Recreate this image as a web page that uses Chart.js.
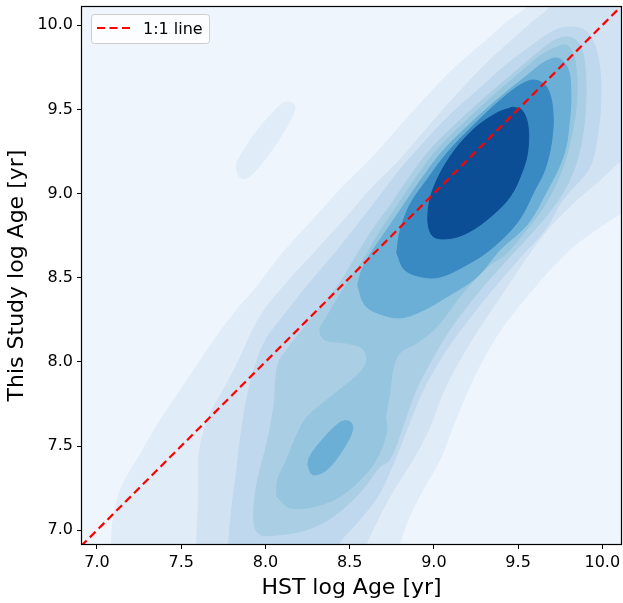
<!DOCTYPE html>
<html><head><meta charset="utf-8">
<script src="https://cdn.jsdelivr.net/npm/chart.js@4.4.1/dist/chart.umd.min.js"></script>
<style>html,body{margin:0;padding:0;background:#fff}canvas{display:block}</style>
</head><body>
<canvas id="c" width="623" height="603"></canvas>
<script>
// ---- axes ----
const xTicks = [7.0, 7.5, 8.0, 8.5, 9.0, 9.5, 10.0];
const yTicks = [7.0, 7.5, 8.0, 8.5, 9.0, 9.5, 10.0];
const xRange = [6.911, 10.111];
const yRange = [6.918, 10.108];
const xLabel = 'HST log Age [yr]';
const yLabel = 'This Study log Age [yr]';
const refLabel = '1:1 line';
const refLine = [[6.8, 6.8], [10.3, 10.3]];

// ---- KDE contour regions (x = HST log age, y = this study log age), lowest to highest density ----
const level1 = [[7.087,6.825],[7.087,6.944],[7.099,7.080],[7.147,7.258],[7.248,7.436],[7.366,7.638],[7.485,7.816],[7.604,7.994],[7.717,8.160],[7.830,8.309],[7.948,8.445],[8.103,8.647],[8.281,8.843],[8.459,9.039],[8.637,9.217],[8.815,9.418],[8.993,9.614],[9.154,9.775],[9.314,9.911],[9.433,10.018],[9.552,10.107],[9.629,10.208],[10.223,10.208],[10.223,8.932],[10.116,8.884],[9.986,8.801],[9.825,8.683],[9.688,8.546],[9.570,8.410],[9.409,8.208],[9.290,8.012],[9.195,7.816],[9.112,7.614],[9.035,7.418],[8.934,7.240],[8.839,7.045],[8.798,6.920],[8.780,6.825]];
const level1Island = [[7.830,9.140],[7.847,9.098],[7.889,9.092],[7.954,9.151],[8.037,9.258],[8.115,9.377],[8.162,9.466],[8.174,9.519],[8.144,9.543],[8.097,9.531],[8.014,9.448],[7.931,9.347],[7.865,9.246],[7.830,9.181]];
const level2 = [[7.592,6.825],[7.592,6.926],[7.604,7.223],[7.604,7.418],[7.622,7.537],[7.663,7.674],[7.741,7.816],[7.830,7.982],[7.966,8.267],[8.126,8.469],[8.305,8.665],[8.483,8.861],[8.637,9.039],[8.780,9.181],[8.976,9.407],[9.160,9.614],[9.332,9.792],[9.463,9.911],[9.599,10.030],[9.688,10.107],[9.736,10.208],[10.223,10.208],[10.223,9.258],[10.116,9.199],[9.986,9.080],[9.848,8.962],[9.688,8.801],[9.552,8.623],[9.409,8.410],[9.273,8.208],[9.154,8.012],[9.053,7.816],[8.976,7.614],[8.881,7.430],[8.738,7.199],[8.602,6.926],[8.572,6.825]];
const level3 = [[7.782,6.825],[7.782,6.926],[7.800,7.122],[7.830,7.359],[7.859,7.597],[7.895,7.804],[7.942,7.982],[8.002,8.131],[8.103,8.267],[8.263,8.469],[8.429,8.665],[8.560,8.831],[8.679,8.985],[8.798,9.140],[8.928,9.288],[9.095,9.466],[9.261,9.614],[9.421,9.757],[9.570,9.870],[9.718,9.970],[9.807,9.988],[9.896,9.970],[9.955,9.881],[9.986,9.733],[9.991,9.555],[9.973,9.359],[9.925,9.157],[9.765,8.962],[9.658,8.783],[9.498,8.605],[9.332,8.410],[9.172,8.208],[9.035,8.012],[8.928,7.816],[8.845,7.614],[8.768,7.418],[8.679,7.223],[8.560,7.062],[8.441,6.926],[8.411,6.825]];
const level4 = [[7.978,6.967],[7.942,7.003],[7.930,7.092],[7.936,7.181],[7.954,7.300],[7.984,7.418],[8.014,7.537],[8.037,7.656],[8.055,7.775],[8.061,7.893],[8.079,8.000],[8.126,8.071],[8.204,8.172],[8.281,8.267],[8.441,8.469],[8.542,8.635],[8.643,8.795],[8.756,8.950],[8.863,9.110],[8.987,9.270],[9.142,9.424],[9.320,9.585],[9.480,9.721],[9.599,9.822],[9.718,9.911],[9.807,9.929],[9.867,9.881],[9.896,9.763],[9.902,9.555],[9.878,9.318],[9.819,9.110],[9.718,8.932],[9.570,8.754],[9.421,8.593],[9.261,8.410],[9.106,8.208],[8.987,8.012],[8.887,7.816],[8.815,7.614],[8.738,7.418],[8.679,7.377],[8.560,7.223],[8.400,7.080],[8.245,7.003],[8.085,6.973]];
const level5 = [[8.067,7.199],[8.073,7.300],[8.126,7.418],[8.174,7.537],[8.233,7.656],[8.293,7.715],[8.441,7.834],[8.560,7.935],[8.602,8.012],[8.572,8.083],[8.471,8.113],[8.352,8.131],[8.323,8.190],[8.364,8.267],[8.441,8.397],[8.572,8.593],[8.679,8.772],[8.786,8.932],[8.893,9.092],[9.017,9.258],[9.172,9.413],[9.344,9.573],[9.510,9.716],[9.629,9.816],[9.718,9.864],[9.789,9.881],[9.837,9.792],[9.848,9.555],[9.807,9.300],[9.748,9.110],[9.658,8.932],[9.540,8.772],[9.421,8.635],[9.332,8.576],[9.172,8.410],[9.017,8.208],[8.898,8.113],[8.798,8.053],[8.756,7.953],[8.738,7.816],[8.714,7.674],[8.720,7.597],[8.679,7.460],[8.602,7.341],[8.441,7.199],[8.281,7.139],[8.144,7.134]];
const level6 = [[8.548,8.457],[8.572,8.546],[8.619,8.635],[8.720,8.783],[8.821,8.932],[8.922,9.080],[9.047,9.246],[9.201,9.401],[9.373,9.555],[9.540,9.691],[9.658,9.781],[9.736,9.804],[9.795,9.745],[9.813,9.614],[9.807,9.454],[9.771,9.229],[9.658,8.991],[9.552,8.813],[9.391,8.665],[9.255,8.504],[9.076,8.386],[8.917,8.297],[8.798,8.261],[8.679,8.285],[8.590,8.338]];
const level6Island = [[8.251,7.389],[8.281,7.330],[8.364,7.359],[8.459,7.478],[8.518,7.597],[8.501,7.645],[8.441,7.639],[8.323,7.520],[8.263,7.436]];
const level7 = [[8.780,8.647],[8.798,8.772],[8.857,8.932],[8.958,9.080],[9.083,9.246],[9.243,9.413],[9.409,9.567],[9.522,9.650],[9.599,9.674],[9.670,9.632],[9.706,9.496],[9.700,9.318],[9.658,9.139],[9.599,9.021],[9.498,8.831],[9.332,8.665],[9.172,8.564],[9.035,8.504],[8.934,8.504],[8.827,8.546]];
const level8 = [[9.468,9.513],[9.522,9.496],[9.558,9.407],[9.558,9.258],[9.528,9.139],[9.451,8.979],[9.314,8.843],[9.172,8.754],[9.053,8.730],[8.987,8.754],[8.964,8.861],[8.993,9.021],[9.095,9.217],[9.231,9.377],[9.373,9.478]];

const levelColors = ['#eef5fc','#e0ecf8','#d1e2f3','#bfd8ed','#aacfe5','#95c5df','#6baed6','#3989c2','#0b4e95'];
const regions = [
  {level: 1, pts: level1}, {level: 1, pts: level1Island},
  {level: 2, pts: level2}, {level: 3, pts: level3}, {level: 4, pts: level4},
  {level: 5, pts: level5}, {level: 6, pts: level6}, {level: 6, pts: level6Island},
  {level: 7, pts: level7}, {level: 8, pts: level8}
];

const FONT = '"DejaVu Sans", "Liberation Sans", sans-serif';
const toXY = arr => arr.map(p => ({x: p[0], y: p[1]}));

const datasets = regions.map((r, i) => {
  const pts = toXY(r.pts);
  pts.push({...pts[0]});
  return {
    label: 'level ' + r.level,
    data: pts,
    showLine: true,
    fill: 'shape',
    backgroundColor: levelColors[r.level],
    borderColor: levelColors[r.level],
    borderWidth: 1,
    tension: 0.35,
    pointRadius: 0,
    pointHoverRadius: 0,
    order: 100 - i
  };
});
datasets.push({
  label: refLabel,
  isRef: true,
  data: toXY(refLine),
  showLine: true,
  fill: false,
  borderColor: '#ff0000',
  borderWidth: 2.2,
  borderDash: [8, 4.5],
  pointRadius: 0,
  order: 0
});

const bgPlugin = {
  id: 'areaBg',
  beforeDatasetsDraw(chart) {
    const {ctx, chartArea: a} = chart;
    ctx.save();
    ctx.fillStyle = levelColors[0];
    ctx.fillRect(a.left, a.top, a.right - a.left, a.bottom - a.top);
    ctx.restore();
  }
};
const framePlugin = {
  id: 'frame',
  afterDatasetsDraw(chart) {
    const {ctx, chartArea: a} = chart;
    ctx.save();
    ctx.strokeStyle = '#000';
    ctx.lineWidth = 1.2;
    ctx.strokeRect(a.left - 0.5, a.top - 0.5, a.right - a.left + 1, a.bottom - a.top + 1);
    ctx.restore();
  }
};
const legendPlugin = {
  id: 'insetLegend',
  afterDraw(chart) {
    const ds = chart.data.datasets.find(d => d.isRef);
    const {ctx, chartArea: a} = chart;
    const x = a.left + 9, y = a.top + 7, w = 118, h = 29;
    ctx.save();
    ctx.beginPath();
    ctx.roundRect(x + 0.5, y + 0.5, w, h, 3);
    ctx.fillStyle = 'rgba(255,255,255,0.8)';
    ctx.fill();
    ctx.strokeStyle = '#cccccc';
    ctx.lineWidth = 1;
    ctx.stroke();
    ctx.beginPath();
    ctx.setLineDash(ds.borderDash);
    ctx.strokeStyle = ds.borderColor;
    ctx.lineWidth = ds.borderWidth;
    ctx.moveTo(x + 6, y + 14);
    ctx.lineTo(x + 40, y + 14);
    ctx.stroke();
    ctx.setLineDash([]);
    ctx.fillStyle = '#000';
    ctx.font = '16px ' + FONT;
    ctx.textBaseline = 'alphabetic';
    ctx.fillText(ds.label, x + 52, y + 19.5);
    ctx.restore();
  }
};

const tickFont = {family: FONT, size: 16};
const titleFont = {family: FONT, size: 22};

new Chart(document.getElementById('c'), {
  type: 'scatter',
  data: {datasets},
  options: {
    responsive: false,
    devicePixelRatio: 1,
    animation: false,
    events: [],
    layout: {padding: {left: 0, right: 2, top: 7, bottom: 0}},
    elements: {line: {capBezierPoints: false}},
    plugins: {legend: {display: false}, tooltip: {enabled: false}},
    scales: {
      x: {
        type: 'linear', min: xRange[0], max: xRange[1],
        afterBuildTicks: ax => { ax.ticks = xTicks.map(v => ({value: v})); },
        afterFit: ax => { ax.height = 59; ax.paddingLeft = 0; ax.paddingRight = 0; },
        ticks: {font: tickFont, color: '#000', padding: 4, maxRotation: 0, callback: v => v.toFixed(1)},
        grid: {display: true, drawOnChartArea: false, drawTicks: true, tickLength: 5, color: '#000', lineWidth: 1},
        border: {display: true, color: '#000', width: 1},
        title: {display: true, text: xLabel, font: titleFont, color: '#000', padding: {top: 0, bottom: 2}}
      },
      y: {
        type: 'linear', min: yRange[0], max: yRange[1],
        afterBuildTicks: ax => { ax.ticks = yTicks.map(v => ({value: v})); },
        afterFit: ax => { ax.width = 82; ax.paddingTop = 0; ax.paddingBottom = 0; },
        ticks: {font: tickFont, color: '#000', padding: 4, callback: v => v.toFixed(1)},
        grid: {display: true, drawOnChartArea: false, drawTicks: true, tickLength: 5, color: '#000', lineWidth: 1},
        border: {display: true, color: '#000', width: 1},
        title: {display: true, text: yLabel, font: titleFont, color: '#000', padding: {top: 4, bottom: 0}}
      }
    }
  },
  plugins: [bgPlugin, framePlugin, legendPlugin]
});
</script>
</body></html>
